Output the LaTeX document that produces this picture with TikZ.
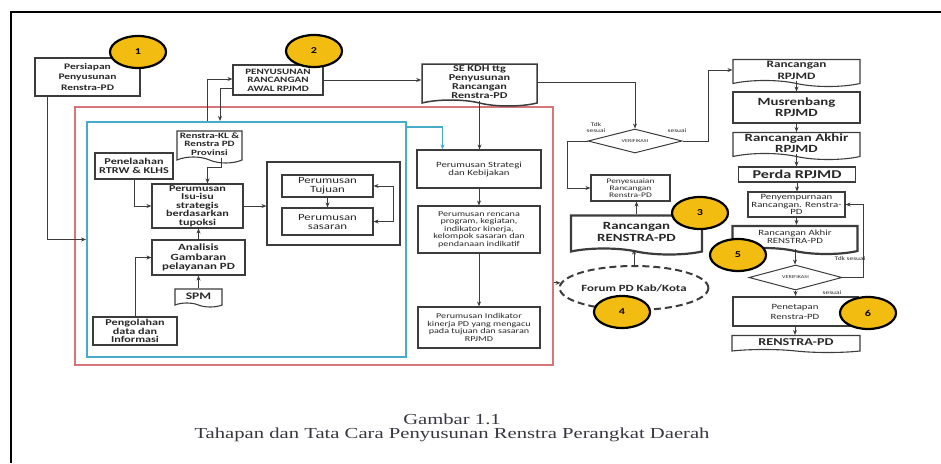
\documentclass[tikz,border=0pt]{standalone}
\usepackage{fontspec}
\setmainfont{Liberation Serif}[FakeStretch=1.35]
\newfontfamily\kotak{Carlito}[FakeStretch=1.35]
\usepackage{tikz}
\usetikzlibrary{arrows.meta}
\usetikzlibrary{shapes.geometric}
\usetikzlibrary{shapes.symbols}
\definecolor{emas}{RGB}{243,188,16}
\definecolor{merah}{RGB}{214,118,122}
\definecolor{biru}{RGB}{72,172,200}
\definecolor{garis}{RGB}{60,60,60}
\definecolor{teks}{RGB}{40,40,40}
\definecolor{judul}{RGB}{55,55,65}
\newcommand{\ukuran}[2]{\fontsize{#1}{#2}\selectfont}

\begin{document}
\begin{tikzpicture}[x=1pt,y=-1pt,
 box/.style={draw=garis,line width=1.1pt,inner sep=0.5pt,align=center,text=teks},
 dok/.style={box,tape,tape bend top=none,tape bend bottom=out and in,tape bend height=6pt},
 tebal/.style={line width=2pt},
 bingkai/.style={draw=#1,line width=1.6pt,inner sep=0pt},
 cek/.style={diamond,aspect=4,draw=garis,line width=1pt,inner sep=0pt,text=teks,font=\kotak\ukuran{4.5}{5}},
 nomor/.style={ellipse,draw=black,line width=2.2pt,fill=emas,minimum width=56,minimum height=32,inner sep=0pt,font=\kotak\bfseries\ukuran{9}{9}},
 panah/.style={draw=garis,line width=1pt,-{Stealth[length=5pt,width=4pt]}},
 ket/.style={font=\kotak\ukuran{5.5}{6},text=teks,align=center,inner sep=0pt}]
\useasboundingbox (0,0) rectangle (941,463);
\draw[line width=1.5pt] (11,463) -- (11,12) -- (941,12);

\node[bingkai=merah,minimum width=478,minimum height=258] (tahap) at (314,236) {};
\node[bingkai=biru,line width=2pt,minimum width=319,minimum height=235] (isuframe) at (246.5,239.5) {};

\node[box,tebal,minimum width=105,minimum height=38,font=\kotak\bfseries\ukuran{8.5}{10.5}] (persiapan) at (87.5,77) {Persiapan\\Penyusunan\\Renstra-PD};
\node[box,minimum width=90,minimum height=30,font=\kotak\bfseries\ukuran{8.2}{8.5}] (awal) at (278,80) {PENYUSUNAN\\RANCANGAN\\AWAL RPJMD};
\node[dok,line width=1.5pt,minimum width=115,minimum height=42,font=\kotak\bfseries\ukuran{9}{8.8}] (sekdh) at (479.5,82) {SE KDH ttg\\Penyusunan\\Rancangan\\Renstra-PD};

\node[dok,minimum width=65,minimum height=32,font=\kotak\bfseries\ukuran{8.2}{8.3}] (renstrakl) at (209.5,144) {Renstra-KL \&\\Renstra PD\\Provinsi};
\node[box,minimum width=78,minimum height=26,font=\kotak\bfseries\ukuran{9}{9}] (penelaahan) at (134,166) {Penelaahan\\RTRW \& KLHS};
\node[box,minimum width=91,minimum height=44,font=\kotak\bfseries\ukuran{9}{8.6}] (isu) at (197.5,206) {Perumusan\\Isu-isu\\strategis\\berdasarkan\\tupoksi};
\node[box,minimum width=93,minimum height=35,font=\kotak\bfseries\ukuran{9.5}{9.5}] (analisisgb) at (198.5,257.5) {Analisis\\Gambaran\\pelayanan PD};
\node[dok,tape bend height=4pt,minimum width=47,minimum height=18,font=\kotak\bfseries\ukuran{10}{10}] (spm) at (198.5,296) {SPM};
\node[box,minimum width=84,minimum height=28,font=\kotak\bfseries\ukuran{9}{8.8}] (pengolahan) at (135,331) {Pengolahan\\data dan\\Informasi};
\node[box,minimum width=133,minimum height=83] (tujuanframe) at (333.5,203.5) {};
\node[box,minimum width=91,minimum height=22,font=\kotak\ukuran{9.5}{9}] (tujuan) at (327.5,186) {Perumusan\\Tujuan};
\node[box,minimum width=91,minimum height=27,font=\kotak\ukuran{9.5}{9}] (sasaran) at (327.5,221.5) {Perumusan\\sasaran};

\node[box,minimum width=124,minimum height=38,font=\kotak\ukuran{8}{8}] (strategi) at (479,169) {Perumusan Strategi\\dan Kebijakan};
\node[box,minimum width=122,minimum height=47,font=\kotak\ukuran{7.5}{7.6}] (rencana) at (479,229.5) {Perumusan rencana\\program, kegiatan,\\indikator kinerja,\\kelompok sasaran dan\\pendanaan indikatif};
\node[box,minimum width=122,minimum height=41,font=\kotak\ukuran{7.5}{7.6}] (indikator) at (479,327.5) {Perumusan Indikator\\kinerja PD yang mengacu\\pada tujuan dan sasaran\\RPJMD};

\node[cek,minimum width=94,minimum height=24] (verif1) at (635,141) {VERIFIKASI};
\node[box,minimum width=79,minimum height=26,font=\kotak\ukuran{7}{7.2}] (penyesuaian) at (630.5,188) {Penyesuaian\\Rancangan\\Renstra-PD};
\node[dok,line width=2.2pt,minimum width=131,minimum height=39,font=\kotak\bfseries\ukuran{11}{12}] (rancrenstra) at (636.5,232) {Rancangan\\RENSTRA-PD};
\node[ellipse,draw=garis,dashed,dash pattern=on 7pt off 4pt,line width=2pt,minimum width=138,minimum height=44,inner sep=0pt,text=teks,font=\kotak\bfseries\ukuran{9.5}{9.5}] (forum) at (634,288) {Forum PD Kab/Kota};

\node[dok,minimum width=127,minimum height=27,font=\kotak\bfseries\ukuran{9.8}{12}] (rancrpjmd) at (796.5,70) {Rancangan\\RPJMD};
\node[box,minimum width=127,minimum height=31,font=\kotak\bfseries\ukuran{11}{11}] (musrenbang) at (796.5,107.5) {Musrenbang\\RPJMD};
\node[dok,minimum width=127,minimum height=27,font=\kotak\bfseries\ukuran{11}{11}] (akhirrpjmd) at (796.5,143) {Rancangan Akhir\\RPJMD};
\node[box,minimum width=117,minimum height=15,font=\kotak\bfseries\ukuran{12}{12}] (perda) at (797,174.5) {Perda RPJMD};
\node[box,minimum width=97,minimum height=25,font=\kotak\ukuran{8}{7.8}] (penyempurnaan) at (796.5,204.5) {Penyempurnaan\\Rancangan. Renstra-\\PD};
\node[dok,line width=2.2pt,minimum width=125,minimum height=28,font=\kotak\ukuran{8}{8}] (akhirrenstra) at (795,237) {Rancangan Akhir\\RENSTRA-PD};
\node[cek,minimum width=93,minimum height=25] (verif2) at (795.5,277.5) {VERIFIKASI};
\node[box,tebal,minimum width=125,minimum height=29,font=\kotak\ukuran{8}{10}] (penetapan) at (795,311.5) {Penetapan\\Renstra-PD};
\node[dok,tape bend height=3pt,minimum width=128,minimum height=17,font=\kotak\bfseries\ukuran{10.5}{10.5}] (renstrapd) at (796,342.5) {RENSTRA-PD};

\node[ket] (tdk1) at (596,128) {Tdk\\sesuai};
\node[ket] (ya1) at (677,131) {sesuai};
\node[ket] (tdk2) at (850,259) {Tdk sesuai};
\node[ket] (ya2) at (832,293) {sesuai};

\draw[panah] ([xshift=13pt]persiapan.south west) |- (isuframe.west);
\draw[panah] (awal.east) -- (awal.east -| sekdh.west);
\draw[panah] (sekdh.east) -| (verif1.north);
\draw[panah,line width=1.8pt] (sekdh.south) -- (sekdh.south |- strategi.north);
\draw[panah] ([xshift=121pt]isuframe.north west) |- ([yshift=1pt]awal.west);
\draw[panah] ([yshift=-8pt]awal.west) -| ([xshift=134pt]isuframe.north west);
\draw[panah,draw=biru,line width=1.4pt] ([shift={(0,6)}]isuframe.north east) -| ([xshift=26pt]strategi.north west);
\draw[panah] ([xshift=12pt]renstrakl.south) -- ++(0,10) -| ([xshift=10pt]isu.north);
\draw[panah] (penelaahan.south) |- (isu.west);
\draw[panah] (analisisgb.north) -- (analisisgb.north |- isu.south);
\draw[panah] (spm.north) -- (spm.north |- analisisgb.south);
\draw[panah] (pengolahan.north) |- (analisisgb.west);
\draw[panah] (isu.east) -- (isu.east -| tujuanframe.west);
\draw[panah] (tujuan.south) -- (sasaran.north);
\draw[draw=garis,line width=1pt,{Stealth[length=5pt,width=4pt]}-{Stealth[length=5pt,width=4pt]}] (tujuan.east) -- ++(20,0) |- (sasaran.east);
\draw[panah] (strategi) -- (rencana);
\draw[panah] (rencana) -- (indikator);
\draw[panah] (tahap.east |- forum.176) -- (forum.176);
\draw[panah] (forum.north) -- (forum.north |- rancrenstra.south);
\draw[panah] (rancrenstra.north) -- (rancrenstra.north |- penyesuaian.south);
\draw[panah] (verif1.west) -- ++(-20,0) |- (penyesuaian.west);
\draw[panah] (verif1.east) -- ++(26,0) |- (rancrpjmd.west);
\foreach \a/\b in {rancrpjmd/musrenbang,musrenbang/akhirrpjmd,akhirrpjmd/perda,perda/penyempurnaan,penyempurnaan/akhirrenstra,akhirrenstra/verif2,verif2/penetapan,penetapan/renstrapd}
  \draw[panah] (\a.south) -- (\a.south |- \b.north);
\draw[panah] (verif2.east) -- ++(21,0) |- (penyempurnaan.east);

\node[nomor] (n1) at (138,52) {1};
\node[nomor] (n2) at (314,51) {2};
\node[nomor] (n3) at (700,213) {3};
\node[nomor] (n4) at (622,312) {4};
\node[nomor] (n5) at (738,255) {5};
\node[nomor] (n6) at (868,313) {6};

\node[font=\ukuran{15.3}{17},text=judul,inner sep=0pt] (gambar) at (452,419) {Gambar 1.1};
\node[font=\ukuran{15.3}{17},text=judul,inner sep=0pt] (judul) at (452,435) {Tahapan dan Tata Cara Penyusunan Renstra Perangkat Daerah};
\end{tikzpicture}
\end{document}
